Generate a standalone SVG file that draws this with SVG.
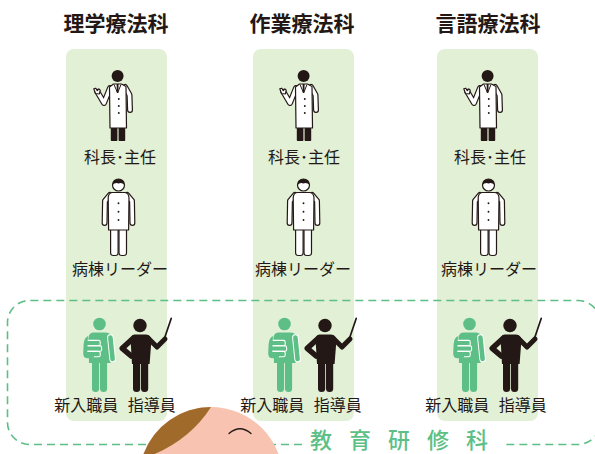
<svg xmlns="http://www.w3.org/2000/svg" xmlns:xlink="http://www.w3.org/1999/xlink" width="595" height="454" viewBox="0 0 595 454">
  <style>
    .title { font-family: "Noto Sans CJK JP", "Noto Sans CJK SC", sans-serif; font-size: 21px; font-weight: 700; fill: #231815; text-anchor: middle; }
    .label { font-family: "Noto Sans CJK JP", "Noto Sans CJK SC", sans-serif; font-size: 16px; font-weight: 400; fill: #231815; text-anchor: middle; }
    .course { font-family: "Noto Sans CJK JP", "Noto Sans CJK SC", sans-serif; font-size: 22px; font-weight: 500; fill: #5dbf86; letter-spacing: 17px; }
    .panel { fill: #e2f0d6; }
    .ink { fill: #231815; }
    .wo { fill: #ffffff; stroke: #231815; stroke-width: 1.2; stroke-linejoin: round; }
    .sleeve-o { fill: none; stroke: #231815; stroke-width: 6; stroke-linecap: round; stroke-linejoin: round; }
    .sleeve-i { fill: none; stroke: #ffffff; stroke-width: 3.6; stroke-linecap: round; stroke-linejoin: round; }
    .frame { fill: none; stroke: #5dbf86; stroke-width: 1.6; stroke-dasharray: 8 5; }
  </style>
  <defs>
    <!-- department head: white coat, waving hand -->
    <g id="doctor">
      <polyline class="sleeve-o" points="110,88 104,103 97.5,92"/>
      <polyline class="sleeve-i" points="110,88 104,103 97.5,92"/>
      <path class="wo" d="M95.5 93.5 L93.8 88.8 L95.8 88.2 L97.3 90.6 L98.8 88.8 L100.2 90.2 L99.4 94 Z"/>
      <polyline class="sleeve-o" points="125,87 129.5,95 130,110"/>
      <polyline class="sleeve-i" points="125,87 129.5,95 130,110"/>
      <path class="wo" d="M113.5 84 H121.5 L126 86.5 L126.5 128 H110 L109.5 87 Z"/>
      <path class="ink" d="M116.6 84 H118.6 L118.4 92.5 H116.8 Z"/>
      <path d="M114 84.5 L117.6 93 L121 84.5" fill="none" stroke="#231815" stroke-width="1"/>
      <circle class="ink" cx="118.8" cy="99" r="0.95"/>
      <circle class="ink" cx="118.8" cy="106" r="0.95"/>
      <circle class="ink" cx="118.8" cy="113" r="0.95"/>
      <rect class="ink" x="110.8" y="128" width="6.6" height="13" rx="0.8"/>
      <rect class="ink" x="118.6" y="128" width="6.6" height="13" rx="0.8"/>
      <circle class="ink" cx="117.6" cy="76" r="6"/>
    </g>
    <!-- ward leader: uniform -->
    <g id="nurse">
      <rect class="wo" x="110.6" y="226" width="7.5" height="29.5" rx="2.6"/>
      <rect class="wo" x="119" y="226" width="7.5" height="29.5" rx="2.6"/>
      <polyline class="sleeve-o" points="110,195 105,201 104.6,223"/>
      <polyline class="sleeve-i" points="110,195 105,201 104.6,223"/>
      <polyline class="sleeve-o" points="127,195 132,201 132.4,223"/>
      <polyline class="sleeve-i" points="127,195 132,201 132.4,223"/>
      <path class="wo" d="M112 192.5 H125 Q128.5 193 129 197.5 L128.6 230 H108.6 L108.2 197.5 Q108.6 193 112 192.5 Z"/>
      <circle class="ink" cx="118.5" cy="203.3" r="0.95"/>
      <circle class="ink" cx="118.5" cy="211.7" r="0.95"/>
      <circle class="ink" cx="118.5" cy="220" r="0.95"/>
      <circle class="wo" cx="118.5" cy="185" r="6"/>
      <path class="ink" d="M112.5 185 A6 6 0 0 1 124.5 185 Q122 182.2 118.5 183.4 Q115 182.2 112.5 185 Z"/>
    </g>
    <!-- new staff member holding books -->
    <g id="trainee">
      <circle cx="99.5" cy="324" r="6.3" fill="#5dbf86"/>
      <rect x="92" y="352" width="7.1" height="40" rx="3.5" fill="#5dbf86"/>
      <rect x="100" y="352" width="7.1" height="40" rx="3.5" fill="#5dbf86"/>
      <path fill="#5dbf86" d="M94 332.6 H105 Q111 332.6 111.4 338 L110.6 363 H89 L88.4 338 Q89 332.6 94 332.6 Z"/>
      <path d="M110.4 337.5 L112.6 359" fill="none" stroke="#ffffff" stroke-width="6.6" stroke-linecap="round"/>
      <path d="M110.4 337.5 L112.6 359" fill="none" stroke="#5dbf86" stroke-width="4.6" stroke-linecap="round"/>
      <g fill="#5dbf86" stroke="#ffffff" stroke-width="1.1">
        <rect x="84.2" y="340.4" width="16" height="5.4" rx="1.6"/>
        <rect x="85.6" y="345.9" width="16" height="5.4" rx="1.6"/>
        <rect x="84.2" y="351.4" width="16" height="5.4" rx="1.6"/>
      </g>
      <path fill="#5dbf86" d="M88 336 Q84 338 83.6 344 L83.2 354 Q83.4 358.4 88 358.2 L94 357.6 L94 355 L87.2 354.6 L87.6 343 Z"/>
    </g>
    <!-- instructor with pointer -->
    <g id="mentor">
      <circle class="ink" cx="140" cy="325.5" r="6.7"/>
      <rect class="ink" x="133" y="356" width="7.2" height="36" rx="3.5"/>
      <rect class="ink" x="141" y="356" width="7.2" height="36" rx="3.5"/>
      <path class="ink" d="M134.5 334.6 H146 Q151 335 151.4 340.6 L149.6 364 H132 L130.6 340.6 Q130.8 335 134.5 334.6 Z"/>
      <polyline points="133.5,338 122.3,348.3 131.2,356" fill="none" stroke="#231815" stroke-width="5.6" stroke-linecap="round" stroke-linejoin="round"/>
      <polyline points="148,338 157,347 165,339" fill="none" stroke="#231815" stroke-width="5" stroke-linecap="round" stroke-linejoin="round"/>
      <line x1="163.4" y1="341.5" x2="171.2" y2="318.4" stroke="#231815" stroke-width="1.7" stroke-linecap="round"/>
    </g>
  </defs>

  <!-- department columns -->
  <g id="panels">
    <rect class="panel" x="66" y="49" width="101" height="372" rx="8"/>
    <rect class="panel" x="253" y="49" width="101" height="372" rx="8"/>
    <rect class="panel" x="437" y="49" width="101" height="372" rx="8"/>
  </g>

  <!-- training frame around the new staff row -->
  <g id="connectors">
    <path id="training-frame" class="frame" d="M302 444.5 H29.5 A22 22 0 0 1 7.5 422.5 V322.5 A22 22 0 0 1 29.5 300.5 H578 A22 22 0 0 1 600 322.5 V422.5 A22 22 0 0 1 578 444.5 H503"/>
  </g>

  <!-- trainee head peeking in at the bottom -->
  <g id="mascot">
    <circle cx="211" cy="479" r="72" fill="#f8c4b1"/>
    <path d="M211 407 A72 72 0 0 0 143.5 454 L150 456 Q190 440 211 407 Z" fill="#a06a2a"/>
    <path d="M229 433.5 Q240 424 251 433.5" fill="none" stroke="#231815" stroke-width="1.3" stroke-linecap="round"/>
  </g>

  <!-- 理学療法科 -->
  <g id="pt">
    <text class="title" x="116" y="31">理学療法科</text>
    <g id="pt-chief"><use xlink:href="#doctor" href="#doctor"/><text class="label" x="120" y="162.5">科長･主任</text></g>
    <g id="pt-leader"><use xlink:href="#nurse" href="#nurse"/><text class="label" x="120" y="274.5">病棟リーダー</text></g>
    <g id="pt-trainee"><use xlink:href="#trainee" href="#trainee"/><use xlink:href="#mentor" href="#mentor"/><text class="label" x="115" y="410.5">新入職員<tspan dx="6"> 指導員</tspan></text></g>
  </g>

  <!-- 作業療法科 -->
  <g id="ot">
    <text class="title" x="302" y="31">作業療法科</text>
    <g id="ot-chief"><use xlink:href="#doctor" href="#doctor" x="186"/><text class="label" x="304" y="162.5">科長･主任</text></g>
    <g id="ot-leader"><use xlink:href="#nurse" href="#nurse" x="185"/><text class="label" x="303" y="274.5">病棟リーダー</text></g>
    <g id="ot-trainee"><use xlink:href="#trainee" href="#trainee" x="185"/><use xlink:href="#mentor" href="#mentor" x="185"/><text class="label" x="301" y="410.5">新入職員<tspan dx="6"> 指導員</tspan></text></g>
  </g>

  <!-- 言語療法科 -->
  <g id="st">
    <text class="title" x="488" y="31">言語療法科</text>
    <g id="st-chief"><use xlink:href="#doctor" href="#doctor" x="370"/><text class="label" x="490" y="162.5">科長･主任</text></g>
    <g id="st-leader"><use xlink:href="#nurse" href="#nurse" x="370"/><text class="label" x="489" y="274.5">病棟リーダー</text></g>
    <g id="st-trainee"><use xlink:href="#trainee" href="#trainee" x="370"/><use xlink:href="#mentor" href="#mentor" x="370"/><text class="label" x="486" y="410.5">新入職員<tspan dx="6"> 指導員</tspan></text></g>
  </g>

  <text class="course" x="310" y="448">教育研修科</text>
</svg>
